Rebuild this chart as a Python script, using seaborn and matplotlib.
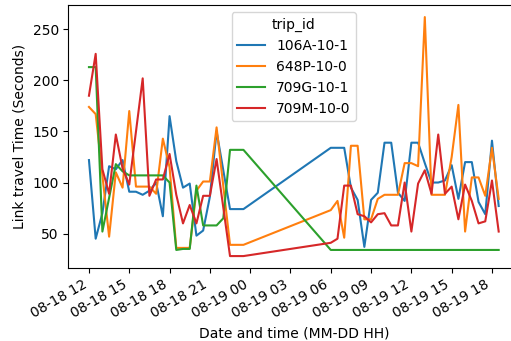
import numpy as np
import pandas as pd
import seaborn as sns
import matplotlib
matplotlib.use("Agg")
import matplotlib.pyplot as plt
import matplotlib.dates as mdates

# half-hour slot index (from 08-18 12:00) and travel time for each trip
trips = ["106A-10-1", "648P-10-0", "709G-10-1", "709M-10-0"]

slots_106a = [0, 1, 2, 3, 4, 5, 6, 7, 8, 9, 10, 11, 12, 13, 14, 15, 16, 17, 18, 19, 21, 23,
              36, 37, 38, 39, 40, 41, 42, 43, 44, 45, 46, 47, 48, 49, 50, 51, 52, 53, 54, 55,
              56, 57, 58, 59, 60, 61]
time_106a = [122, 45, 70, 116, 113, 122, 91, 91, 88, 92, 100, 67, 165, 121, 95, 99, 48, 53, 86, 150, 74, 74,
             134, 134, 134, 95, 83, 37, 83, 90, 139, 139, 90, 82, 139, 139, 119, 100, 100, 102, 117, 84,
             120, 120, 81, 69, 141, 77]

slots_648p = [0, 1, 3, 4, 5, 6, 7, 8, 9, 10, 11, 12, 13, 14, 15, 16, 17, 18, 19, 21, 23,
              36, 37, 38, 39, 40, 41, 42, 43, 44, 45, 46, 47, 48, 49, 50, 51, 52, 53, 54, 55,
              56, 57, 58, 59, 60, 61]
time_648p = [174, 167, 47, 110, 95, 170, 96, 96, 96, 89, 143, 115, 36, 36, 36, 92, 101, 101, 154, 39, 39,
             73, 82, 46, 136, 136, 64, 64, 84, 88, 88, 88, 119, 119, 116, 262, 88, 88, 88, 125, 176,
             52, 105, 105, 87, 134, 84]

slots_709g = [0, 1, 2, 3, 4, 5, 6, 7, 8, 9, 10, 11, 12, 13, 14, 15, 16, 17, 18, 19, 20, 21, 23, 36, 61]
time_709g = [213, 213, 52, 85, 118, 111, 107, 107, 107, 107, 107, 107, 100, 34, 35, 35, 97, 58, 58, 58, 65,
             132, 132, 34, 34]

slots_709m = [0, 1, 2, 3, 4, 5, 6, 8, 9, 10, 11, 12, 13, 14, 15, 16, 17, 18, 19, 21, 23,
              36, 37, 38, 39, 40, 41, 42, 43, 44, 45, 46, 47, 48, 49, 50, 51, 52, 53, 54, 55,
              56, 57, 58, 59, 60, 61]
time_709m = [185, 226, 113, 89, 147, 114, 98, 202, 87, 103, 103, 128, 88, 60, 78, 60, 87, 87, 123, 28, 28,
             41, 45, 97, 97, 69, 67, 61, 69, 70, 58, 58, 100, 52, 99, 112, 89, 147, 89, 96, 64,
             98, 82, 60, 62, 102, 52]

start = pd.Timestamp("2021-08-18 12:00")
frames = []
for trip, slots, vals in zip(trips,
                             [slots_106a, slots_648p, slots_709g, slots_709m],
                             [time_106a, time_648p, time_709g, time_709m]):
    frames.append(pd.DataFrame({
        "time": start + pd.to_timedelta(np.array(slots) * 30, unit="min"),
        "travel_time": vals,
        "trip_id": trip,
    }))
df = pd.concat(frames, ignore_index=True)

fig = plt.figure(figsize=(5.11, 3.41), dpi=100)
ax = fig.add_axes([0.134, 0.214, 0.882, 0.771])
sns.lineplot(data=df, x="time", y="travel_time", hue="trip_id", palette="tab10", ax=ax)

ax.xaxis.set_major_locator(mdates.HourLocator(byhour=range(0, 24, 3)))
ax.xaxis.set_major_formatter(mdates.DateFormatter("%m-%d %H"))
plt.setp(ax.get_xticklabels(), rotation=30, ha="right")
ax.set_xlabel("Date and time (MM-DD HH)")
ax.set_ylabel("Link travel Time (Seconds)")
ax.legend(title="trip_id", loc="upper center")

fig.savefig("out.png", dpi=100)
